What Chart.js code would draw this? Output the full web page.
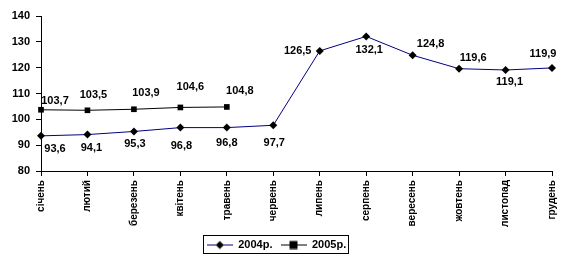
<!DOCTYPE html>
<html>
<head>
<meta charset="utf-8">
<script src="https://cdn.jsdelivr.net/npm/chart.js@4"></script>
<style>
html,body{margin:0;padding:0;background:#fff;}
#wrap{width:568px;height:266px;position:relative;}
</style>
</head>
<body>
<div id="wrap"><canvas id="c" width="568" height="266"></canvas></div>
<script>
const months = ['січень','лютий','березень','квітень','травень','червень','липень','серпень','вересень','жовтень','листопад','грудень'];
const values2004 = [93.6, 94.1, 95.3, 96.8, 96.8, 97.7, 126.5, 132.1, 124.8, 119.6, 119.1, 119.9];
const values2005 = [103.7, 103.5, 103.9, 104.6, 104.8, null, null, null, null, null, null, null];
const seriesNames = ['2004р.', '2005р.'];
const yMin = 80, yMax = 140, yStep = 10;

const FONT = '"Liberation Sans", Arial, sans-serif';

function legendSwatch(lineColor, shape) {
  const c = document.createElement('canvas');
  c.width = 26; c.height = 10;
  const g = c.getContext('2d');
  g.strokeStyle = lineColor; g.lineWidth = 1;
  g.beginPath(); g.moveTo(0, 5.5); g.lineTo(26, 5.5); g.stroke();
  g.fillStyle = '#000';
  if (shape === 'diamond') {
    g.beginPath(); g.moveTo(13, 1.5); g.lineTo(17, 5.5); g.lineTo(13, 9.5); g.lineTo(9, 5.5); g.closePath(); g.fill();
  } else {
    g.fillRect(9, 1.5, 8, 8);
  }
  return c;
}

const labelPlugin = {
  id: 'valueLabels',
  afterDatasetsDraw(chart, args, opts) {
    const ctx = chart.ctx;
    ctx.save();
    ctx.font = 'bold 11px ' + FONT;
    ctx.fillStyle = '#000';
    ctx.textAlign = 'center';
    ctx.textBaseline = 'middle';
    chart.data.datasets.forEach((ds, di) => {
      const meta = chart.getDatasetMeta(di);
      const offs = opts.offsets[di];
      meta.data.forEach((el, i) => {
        const v = ds.data[i];
        if (v === null || v === undefined) return;
        const o = offs[i] || [0, 0];
        ctx.fillText(v.toFixed(1).replace('.', ','), el.x + o[0], el.y + o[1]);
      });
    });
    ctx.restore();
  }
};

const legendBorder = {
  id: 'legendBorder',
  afterDraw(chart) {
    const lg = chart.legend;
    if (!lg || !lg.legendHitBoxes || !lg.legendHitBoxes.length) return;
    let l = Infinity, t = Infinity, r = -Infinity, b = -Infinity;
    lg.legendHitBoxes.forEach(h => {
      l = Math.min(l, h.left); t = Math.min(t, h.top);
      r = Math.max(r, h.left + h.width); b = Math.max(b, h.top + h.height);
    });
    const ctx = chart.ctx;
    ctx.save();
    ctx.strokeStyle = '#000'; ctx.lineWidth = 1;
    ctx.strokeRect(Math.round(l - 4) + 0.5, Math.round(t - 4) + 0.5, Math.round(r - l + 6), Math.round(b - t + 7));
    ctx.restore();
  }
};

new Chart(document.getElementById('c'), {
  type: 'line',
  data: {
    labels: months,
    datasets: [
      {
        label: seriesNames[0],
        data: values2004,
        borderColor: '#000080',
        borderWidth: 1,
        pointStyle: 'rectRot',
        pointRadius: 4,
        pointBackgroundColor: '#000',
        pointBorderColor: '#000',
        pointBorderWidth: 0,
        tension: 0
      },
      {
        label: seriesNames[1],
        data: values2005,
        borderColor: '#000',
        borderWidth: 1,
        pointStyle: 'rect',
        pointRadius: 4,
        pointBackgroundColor: '#000',
        pointBorderColor: '#000',
        pointBorderWidth: 0,
        tension: 0,
        spanGaps: false
      }
    ]
  },
  options: {
    responsive: false,
    animation: false,
    devicePixelRatio: 1,
    layout: { padding: { left: 0, right: 15, top: 16, bottom: 6 } },
    plugins: {
      tooltip: { enabled: false },
      legend: {
        position: 'bottom',
        labels: {
          usePointStyle: true,
          pointStyleWidth: 26,
          padding: 8,
          color: '#000',
          font: { family: FONT, size: 11, weight: 'bold' },
          generateLabels(chart) {
            return chart.data.datasets.map((ds, i) => ({
              text: ds.label,
              pointStyle: legendSwatch(ds.borderColor, i === 0 ? 'diamond' : 'square'),
              fillStyle: '#000', strokeStyle: '#000', lineWidth: 0,
              datasetIndex: i, hidden: false, fontColor: '#000'
            }));
          }
        }
      },
      valueLabels: {
        offsets: [
          [[14,13],[4,13],[1,12],[1,18],[0,15],[1,18],[-22,0],[3,14],[18,-11],[14,-11],[4,12],[-9,-14]],
          [[14,-9],[6,-15],[12,-16],[10,-20],[13,-16]]
        ]
      }
    },
    scales: {
      x: {
        offset: false,
        grid: { drawOnChartArea: false, drawTicks: true, tickLength: 5, color: '#000' },
        border: { color: '#000', width: 1 },
        ticks: {
          color: '#000', minRotation: 90, maxRotation: 90, autoSkip: false, padding: 4,
          font: { family: FONT, size: 10, weight: 'bold' }
        },
        afterFit(scale) { scale.height = 60; }
      },
      y: {
        min: yMin, max: yMax,
        grid: { drawOnChartArea: false, drawTicks: true, tickLength: 5, color: '#000' },
        border: { color: '#000', width: 1 },
        ticks: {
          stepSize: yStep, color: '#000', padding: 6,
          font: { family: FONT, size: 11, weight: 'bold' }
        },
        afterFit(scale) { scale.width = 41; }
      }
    }
  },
  plugins: [labelPlugin, legendBorder]
});
</script>
</body>
</html>
